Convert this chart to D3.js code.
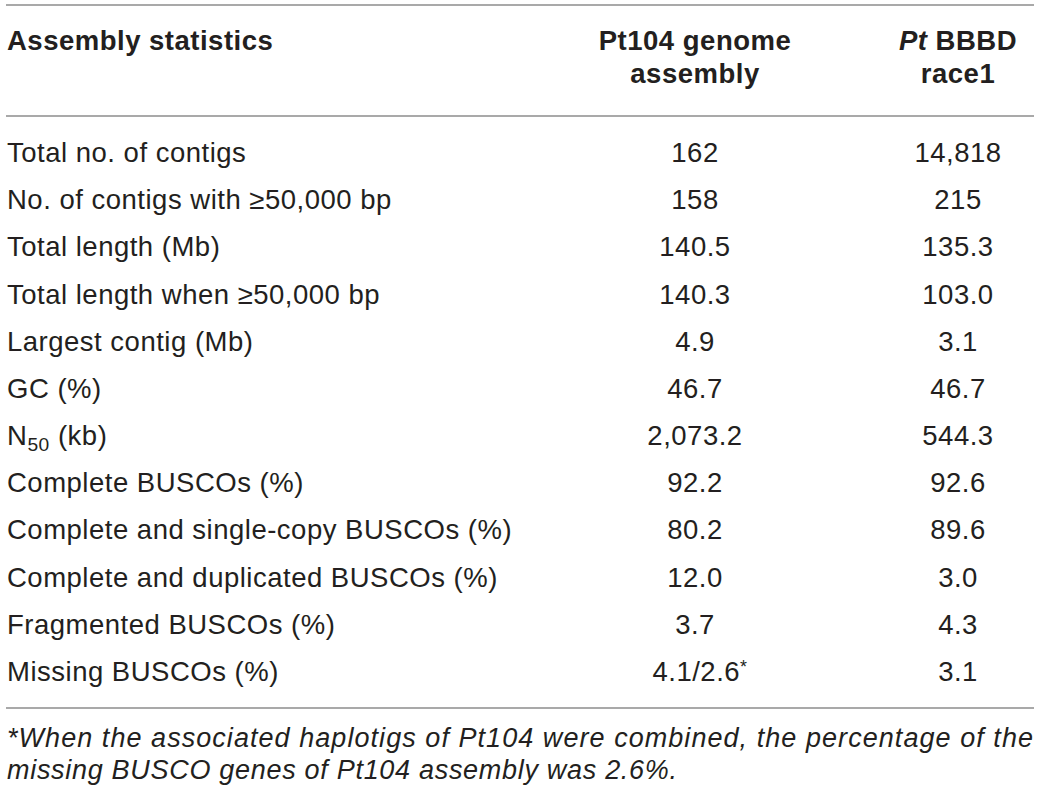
<!DOCTYPE html>
<html>
<head>
<meta charset="utf-8">
<script src="https://cdn.jsdelivr.net/npm/d3@7"></script>
<style>
  body { margin: 0; background: #fff; }
  svg text { font-family: "Liberation Sans", Arial, sans-serif; fill: #231f20; }
</style>
</head>
<body>
<svg id="chart" viewBox="0 0 1040 794" width="1040" height="794"></svg>
<script>
// table content
const rowLabels = [
  "Total no. of contigs",
  "No. of contigs with \u226550,000 bp",
  "Total length (Mb)",
  "Total length when \u226550,000 bp",
  "Largest contig (Mb)",
  "GC (%)",
  "N50 (kb)",
  "Complete BUSCOs (%)",
  "Complete and single-copy BUSCOs (%)",
  "Complete and duplicated BUSCOs (%)",
  "Fragmented BUSCOs (%)",
  "Missing BUSCOs (%)"
]
const pt104Values = ["162", "158", "140.5", "140.3", "4.9", "46.7", "2,073.2", "92.2", "80.2", "12.0", "3.7", "4.1/2.6*"]
const bbbdValues = ["14,818", "215", "135.3", "103.0", "3.1", "46.7", "544.3", "92.6", "89.6", "3.0", "4.3", "3.1"]
const headerFirst = "Assembly statistics"
const headerPt104 = ["Pt104 genome", "assembly"]
const headerBbbd = ["Pt BBBD", "race1"]
const footnote = [
  "*When the associated haplotigs of Pt104 were combined, the percentage of the",
  "missing BUSCO genes of Pt104 assembly was 2.6%."
]

const svg = d3.select("#chart")
const fs = 27.5
const ls = 0.5

const y = d3.scalePoint()
    .domain(rowLabels)
    .range([162, 681])

const colX = d3.scaleOrdinal()
    .domain(["label", "pt104", "bbbd"])
    .range([7, 695, 958])

// rules
const rules = [5, 116, 708]
svg.selectAll(".rule")
    .data(rules)
    .enter()
    .append("line")
    .attr("x1", 6).attr("x2", 1034)
    .attr("y1", d => d).attr("y2", d => d)
    .attr("stroke", "#8c8c8c")
    .attr("stroke-width", 1.5)

// header
const head = svg.append("g")
    .attr("font-weight", "bold")
    .attr("font-size", fs)
    .attr("letter-spacing", ls)
head.append("text")
    .attr("x", colX("label")).attr("y", 50)
    .text(headerFirst)
headerPt104.forEach((t, i) => {
  head.append("text")
      .attr("x", colX("pt104")).attr("y", 50 + i * 33)
      .attr("text-anchor", "middle")
      .text(t)
})
headerBbbd.forEach((t, i) => {
  const tx = head.append("text")
      .attr("x", colX("bbbd")).attr("y", 50 + i * 33)
      .attr("text-anchor", "middle")
  if (t.startsWith("Pt ")) {
    tx.append("tspan").attr("font-style", "italic").text("Pt")
    tx.append("tspan").text(t.slice(2))
  } else {
    tx.text(t)
  }
})

// body rows
const rows = svg.append("g")
    .attr("font-size", fs)
    .attr("letter-spacing", ls)
    .selectAll(".row")
    .data(rowLabels.map((l, i) => ({label: l, a: pt104Values[i], b: bbbdValues[i]})))
    .enter()
    .append("g")
    .attr("transform", d => `translate(0,${y(d.label)})`)

rows.append("text")
    .attr("x", colX("label"))
    .each(function (d) {
      const t = d3.select(this)
      if (d.label.startsWith("N50")) {
        t.append("tspan").text("N")
        t.append("tspan").attr("font-size", fs * 0.7).attr("dy", 6).text("50")
        t.append("tspan").attr("dy", -6).text(" (kb)")
      } else {
        t.text(d.label)
      }
    })

rows.append("text")
    .attr("x", colX("pt104"))
    .attr("text-anchor", "middle")
    .each(function (d) {
      const t = d3.select(this)
      if (d.a.endsWith("*")) {
        t.attr("dx", 5)
        t.append("tspan").text(d.a.slice(0, -1))
        t.append("tspan").attr("font-size", fs * 0.65).attr("dy", -8).text("*")
      } else {
        t.text(d.a)
      }
    })

rows.append("text")
    .attr("x", colX("bbbd"))
    .attr("text-anchor", "middle")
    .text(d => d.b)

// footnote
const foot = svg.append("g").attr("font-size", 27).attr("font-style", "italic")
foot.append("text")
    .attr("x", 7).attr("y", 747)
    .attr("textLength", 1026)
    .attr("lengthAdjust", "spacing")
    .text(footnote[0])
foot.append("text")
    .attr("x", 7).attr("y", 779)
    .attr("letter-spacing", 0.7)
    .text(footnote[1])
</script>
</body>
</html>
